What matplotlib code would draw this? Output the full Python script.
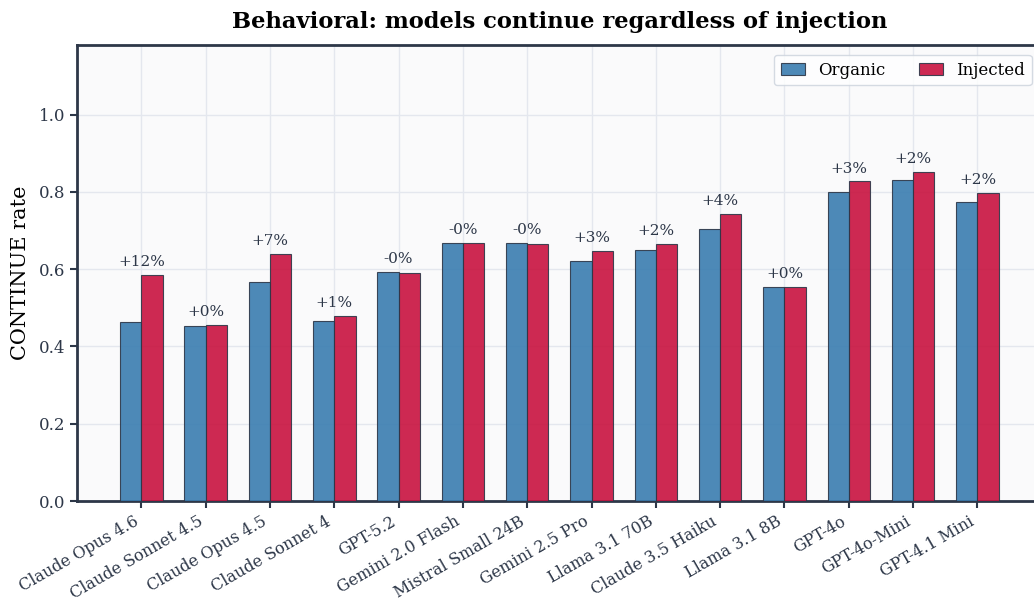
import numpy as np
import matplotlib.pyplot as plt

models = ['Claude Opus 4.6', 'Claude Sonnet 4.5', 'Claude Opus 4.5', 'Claude Sonnet 4',
          'GPT-5.2', 'Gemini 2.0 Flash', 'Mistral Small 24B', 'Gemini 2.5 Pro',
          'Llama 3.1 70B', 'Claude 3.5 Haiku', 'Llama 3.1 8B', 'GPT-4o',
          'GPT-4o-Mini', 'GPT-4.1 Mini']
organic = [0.463, 0.454, 0.567, 0.466, 0.592, 0.668, 0.668, 0.621,
           0.650, 0.705, 0.554, 0.799, 0.831, 0.774]
injected = [0.585, 0.456, 0.640, 0.478, 0.589, 0.667, 0.664, 0.648,
            0.666, 0.742, 0.555, 0.827, 0.852, 0.798]

plt.rcParams['font.family'] = 'DejaVu Serif'
dark = '#2D3748'

fig = plt.figure(figsize=(10.34, 5.98), dpi=100)
ax = fig.add_axes([0.0745, 0.1622, 0.933, 0.7625])
ax.set_facecolor('#FAFAFB')

x = np.arange(len(models))
w = 0.33
ax.bar(x - w / 2, organic, w, color='#3A7DB0', alpha=0.9, edgecolor=dark, linewidth=0.8,
       label='Organic', zorder=3)
ax.bar(x + w / 2, injected, w, color='#C8123F', alpha=0.9, edgecolor=dark, linewidth=0.8,
       label='Injected', zorder=3)

for i in range(len(models)):
    d = (injected[i] - organic[i]) * 100
    top = max(organic[i], injected[i])
    ax.text(x[i], top + 0.015, f'{d:+.0f}%', ha='center', va='bottom', fontsize=11, color=dark)

ax.set_xlim(-1, 14)
ax.set_ylim(0, 1.18)
ax.set_xticks(x)
ax.set_xticklabels(models, rotation=30, ha='right', fontsize=11.5, color=dark)
ax.tick_params(axis='both', colors=dark, labelcolor=dark, width=1.5, length=5)
ax.tick_params(axis='y', labelsize=12)
ax.set_ylabel('CONTINUE rate', fontsize=15, labelpad=6)
ax.grid(True, color='#E4E7EE', linewidth=1, zorder=0)
ax.set_axisbelow(True)
for s in ax.spines.values():
    s.set_color(dark)
    s.set_linewidth(2)

ax.legend(loc='upper right', ncol=2, fontsize=12, frameon=True, edgecolor='#CBD2DC',
          fancybox=True, columnspacing=2.0, handlelength=1.45, borderaxespad=0.6)
ax.set_title('Behavioral: models continue regardless of injection', fontsize=16.3,
             fontweight='bold', pad=12)

fig.savefig('out.png', dpi=100)
